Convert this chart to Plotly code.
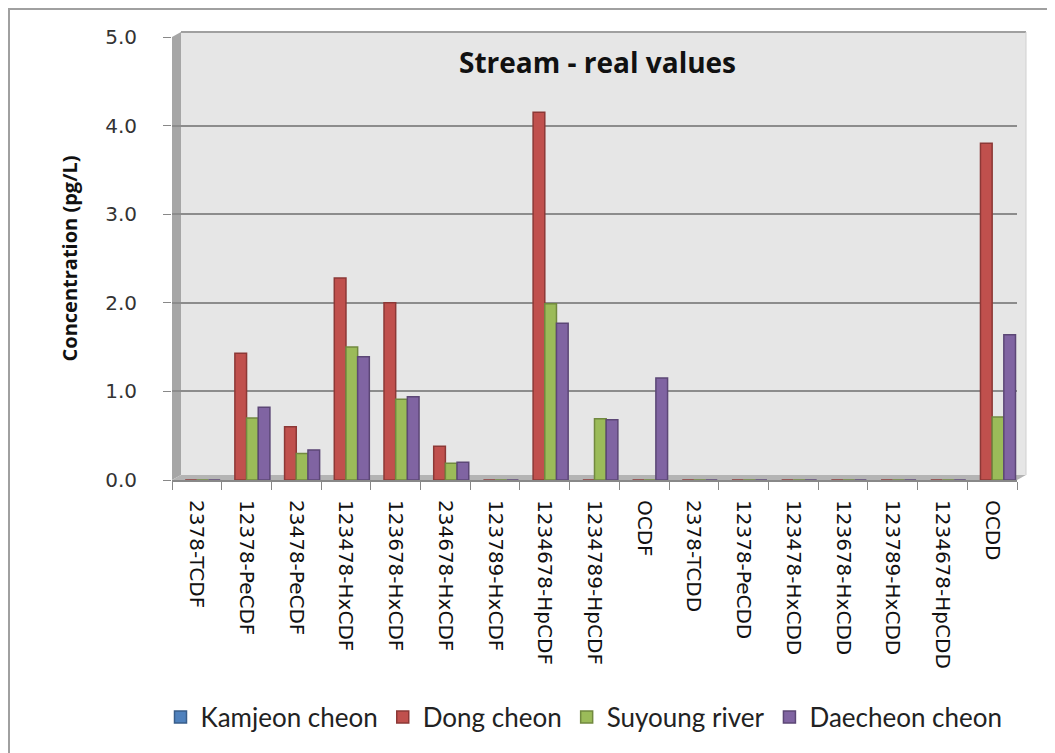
import plotly.graph_objects as go

categories = ["2378-TCDF", "12378-PeCDF", "23478-PeCDF", "123478-HxCDF", "123678-HxCDF",
              "234678-HxCDF", "123789-HxCDF", "1234678-HpCDF", "1234789-HpCDF", "OCDF",
              "2378-TCDD", "12378-PeCDD", "123478-HxCDD", "123678-HxCDD", "123789-HxCDD",
              "1234678-HpCDD", "OCDD"]

kamjeon = [None] * 17
dong = [0.0, 1.43, 0.60, 2.28, 2.00, 0.38, 0.0, 4.15, 0.0, 0.0, 0.0, 0.0, 0.0, 0.0, 0.0, 0.0, 3.80]
suyoung = [0.0, 0.70, 0.30, 1.50, 0.91, 0.19, 0.0, 1.99, 0.69, 0.0, 0.0, 0.0, 0.0, 0.0, 0.0, 0.0, 0.71]
daecheon = [0.0, 0.82, 0.34, 1.39, 0.94, 0.20, 0.0, 1.77, 0.68, 1.15, 0.0, 0.0, 0.0, 0.0, 0.0, 0.0, 1.64]

series = [
    ("Kamjeon cheon", kamjeon, "#4F81BD", "#385D8A"),
    ("Dong cheon", dong, "#C0504D", "#8C3836"),
    ("Suyoung river", suyoung, "#9BBB59", "#71893F"),
    ("Daecheon cheon", daecheon, "#8064A2", "#5C4776"),
]

fig = go.Figure()
for name, vals, col, edge in series:
    fig.add_trace(go.Bar(
        x=categories, y=vals, name=name,
        marker=dict(color=col, line=dict(color=edge, width=1.5)),
    ))

OFF = 8  # page body margin
W, H = 1055 - OFF, 753 - OFF
L = 172 - OFF
T = 37 - OFF
B = H - (480 - OFF)
R = W - (1017 - OFF)
pw, ph = W - L - R, H - T - B

def px(x):
    return (x - OFF - L) / pw

def py(y):
    return (H - B - (y - OFF)) / ph

shapes = [
    dict(type="rect", xref="paper", yref="paper", x0=px(9), x1=px(1090), y0=py(790), y1=py(9),
         line=dict(color="#A0A0A0", width=2), fillcolor="rgba(0,0,0,0)", layer="below"),
    dict(type="rect", xref="paper", yref="paper", x0=px(181), x1=px(1026), y0=py(475), y1=py(32),
         fillcolor="#E6E6E6", line=dict(width=0), layer="below"),
    dict(type="path", xref="paper", yref="paper",
         path=f"M {px(172)},{py(480)} L {px(172)},{py(37)} L {px(181)},{py(32)} L {px(181)},{py(475)} Z",
         fillcolor="#A6A6A6", line=dict(width=0), layer="below"),
    dict(type="line", xref="paper", yref="paper", x0=px(181), x1=px(1026), y0=py(32), y1=py(32),
         line=dict(color="#A0A0A0", width=2), layer="below"),
    dict(type="line", xref="paper", yref="paper", x0=px(1026), x1=px(1026), y0=py(32), y1=py(475),
         line=dict(color="#D0D0D0", width=1), layer="below"),
    dict(type="path", xref="paper", yref="paper",
         path=f"M {px(172)},{py(480)} L {px(181)},{py(475)} L {px(1026)},{py(475)} L {px(1017)},{py(480)} Z",
         fillcolor="#B4B4B4", line=dict(width=0), layer="below"),
]

fig.update_layout(
    width=W, height=H,
    margin=dict(l=L, r=R, t=T, b=B, pad=0, autoexpand=False),
    paper_bgcolor="white",
    plot_bgcolor="rgba(0,0,0,0)",
    barmode="group", bargap=0.06, bargroupgap=0.0,
    shapes=shapes,
    showlegend=True,
    legend=dict(orientation="h", xref="container", yref="container",
                x=(584 - OFF) / W, xanchor="center", y=1 - (717 - OFF) / H, yanchor="middle",
                font=dict(family="Lato", size=26, color="#222"),
                traceorder="normal", itemclick=False),
    annotations=[dict(text="<b>Stream - real values</b>", xref="paper", yref="paper",
                      x=px(597), y=py(62), xanchor="center", yanchor="middle", showarrow=False,
                      font=dict(family="Open Sans", size=28, color="#111"))],
    xaxis=dict(
        tickangle=90, tickson="boundaries", ticks="outside", ticklen=8, tickcolor="#888",
        showline=True, linecolor="#888", linewidth=2, showgrid=False, automargin=False,
        tickfont=dict(family="DejaVu Sans", size=20, color="#111"),
        ticklabelstandoff=14,
        range=[-0.5, 16.5],
    ),
    yaxis=dict(
        range=[0, 5], dtick=1, tickformat=".1f", ticks="outside", ticklen=8, tickcolor="#888",
        showline=False, showgrid=True, gridcolor="#8C8C8C", gridwidth=2, zeroline=False,
        automargin=False,
        tickfont=dict(family="DejaVu Sans", size=20, color="#333"),
        ticklabelstandoff=22,
        title=dict(text="<b>Concentration (pg/L)</b>", font=dict(family="Open Sans", size=20, color="#111"),
                   standoff=22),
    ),
)

fig.write_html("out.html")
